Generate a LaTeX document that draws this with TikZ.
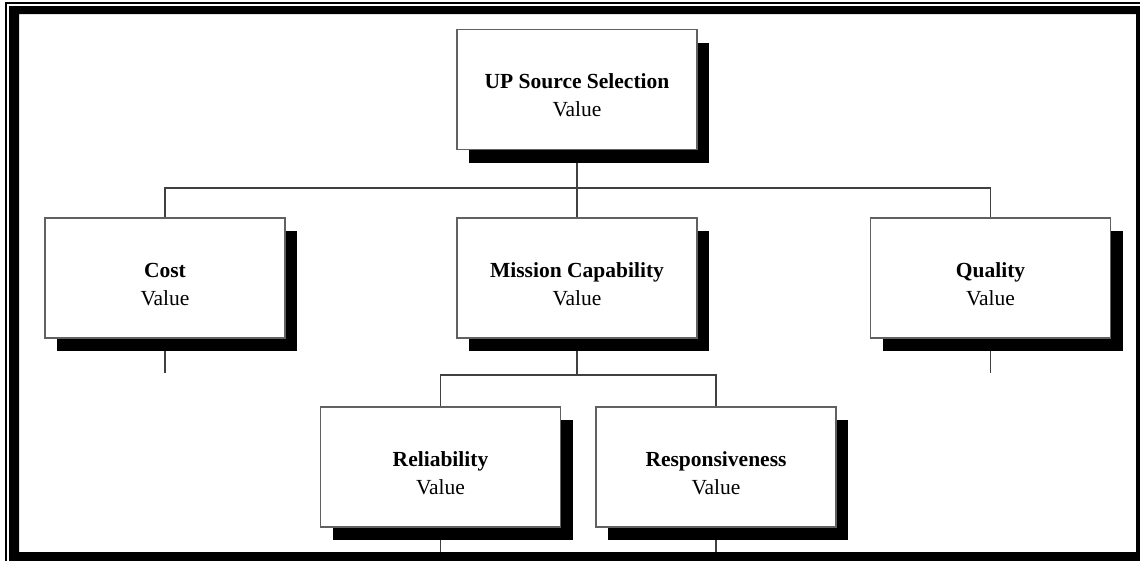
\documentclass[tikz,border=0pt]{standalone}
\usepackage{fontspec}
\setmainfont{Liberation Serif}
\usetikzlibrary{shadows,backgrounds}

\tikzset{
  factor/.style={rectangle, draw=black!62, line width=1.2pt, fill=white,
    minimum width=240pt, minimum height=120pt, inner sep=0pt,
    drop shadow={shadow xshift=12pt, shadow yshift=-13pt, opacity=1, fill=black}},
  ttl/.style={font=\fontsize{21.5}{24}\selectfont\bfseries, inner sep=0pt, anchor=base},
  val/.style={font=\fontsize{21.5}{24}\selectfont, inner sep=0pt, anchor=base},
  link/.style={draw=black!75, line width=1.2pt},
}

% a value box: name, centre, title
\newcommand{\factorbox}[3]{%
  \node[factor] (#1) at (#2) {};
  \node[ttl] (#1-t) at ([yshift=1pt]#1.center) {#3};
  \node[val] (#1-v) at ([yshift=-27pt]#1.center) {Value};
}

\begin{document}
\begin{tikzpicture}[x=1pt, y=-1pt]
  \useasboundingbox (0,0) rectangle (1140,560);

  % value hierarchy
  \factorbox{top}{577,89.5}{UP Source Selection}
  \factorbox{cost}{165,278}{Cost}
  \factorbox{mission}{577,278}{Mission Capability}
  \factorbox{quality}{990.5,278}{Quality}
  \factorbox{rel}{440.5,467}{Reliability}
  \factorbox{resp}{716,467}{Responsiveness}

  \coordinate (bus) at (577,188);
  \coordinate (subbus) at (577,375);
  \coordinate (cost-end) at (165,373);
  \coordinate (quality-end) at (990.5,373);
  \coordinate (rel-end) at (440.5,554);
  \coordinate (resp-end) at (716,554);

  \begin{scope}[on background layer]
    \draw[link] (top.south) -- (bus);
    \draw[link] (bus) -| (cost.north);
    \draw[link] (bus) -- (mission.north);
    \draw[link] (bus) -| (quality.north);
    \draw[link] (cost.south) -- (cost-end);
    \draw[link] (quality.south) -- (quality-end);
    \draw[link] (mission.south) -- (subbus);
    \draw[link] (subbus) -| (rel.north);
    \draw[link] (subbus) -| (resp.north);
    \draw[link] (rel.south) -- (rel-end);
    \draw[link] (resp.south) -- (resp-end);
  \end{scope}

  % double page frame: heavy inner band and thin outer rule, running off the page
  \fill[black, even odd rule] (9,6) rectangle (1150,570) (19,14) rectangle (1136,552);
  \draw[line width=2pt] (6,570) -- (6,3) -- (1150,3);
\end{tikzpicture}
\end{document}
